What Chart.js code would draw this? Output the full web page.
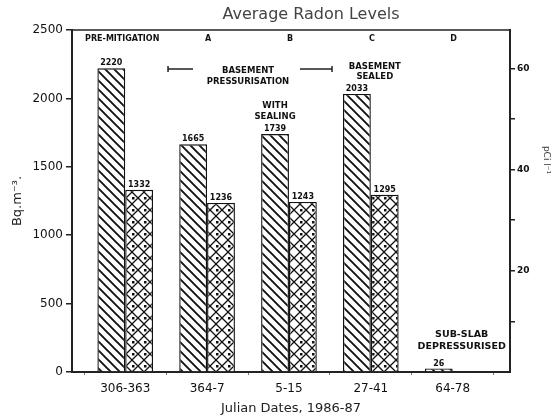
<!DOCTYPE html>
<html>
<head>
<meta charset="utf-8">
<script src="https://cdn.jsdelivr.net/npm/chart.js@4.4.1/dist/chart.umd.min.js"></script>
<style>
  html, body { margin: 0; padding: 0; background: #fff; }
  #wrap { width: 559px; height: 418px; }
</style>
</head>
<body>
<div id="wrap"><canvas id="radonChart" width="559" height="418"></canvas></div>
<script>
// data
const categories = ['306-363', '364-7', '5-15', '27-41', '64-78'];
const phases = ['PRE-MITIGATION', 'A', 'B', 'C', 'D'];
const hatchedValues = [2220, 1665, 1739, 2033, 26];
const crossValues = [1332, 1236, 1243, 1295, null];
const bqTicks = [0, 500, 1000, 1500, 2000, 2500];
const pciTicks = [10, 20, 30, 40, 50, 60];
const BQ_PER_PCI = 37;

const FONT = '"DejaVu Sans", sans-serif';

function hatchPattern() {
    const c = document.createElement('canvas');
    c.width = 9; c.height = 9;
    const g = c.getContext('2d');
    g.fillStyle = '#fff';
    g.fillRect(0, 0, 9, 9);
    g.strokeStyle = '#111';
    g.lineWidth = 1.9;
    g.beginPath();
    g.moveTo(-4.5, 4.5); g.lineTo(4.5, 13.5);
    g.moveTo(0, 0); g.lineTo(9, 9);
    g.moveTo(4.5, -4.5); g.lineTo(13.5, 4.5);
    g.stroke();
    return g.createPattern(c, 'repeat');
}

function crossPattern() {
    const c = document.createElement('canvas');
    c.width = 12; c.height = 12;
    const g = c.getContext('2d');
    g.fillStyle = '#fff';
    g.fillRect(0, 0, 12, 12);
    g.strokeStyle = '#111';
    g.lineWidth = 1.3;
    g.beginPath();
    g.moveTo(0, 0); g.lineTo(12, 12);
    g.moveTo(12, 0); g.lineTo(0, 12);
    g.stroke();
    g.fillStyle = '#111';
    g.fillRect(0, 5, 2.5, 2.5);
    return g.createPattern(c, 'repeat');
}

function toPoints(values) {
    const pts = [];
    values.forEach(function (v, i) {
        if (v !== null) pts.push({ x: i, y: v });
    });
    return pts;
}

// frame, title, value labels and the text notes
const decorPlugin = {
    id: 'decor',
    afterDatasetsDraw(chart) {
        const ctx = chart.ctx;
        const area = chart.chartArea;
        const xs = chart.scales.x;
        const ys = chart.scales.y;
        ctx.save();

        // top frame line
        ctx.strokeStyle = '#222';
        ctx.lineWidth = 1.6;
        ctx.beginPath();
        ctx.moveTo(area.left, area.top);
        ctx.lineTo(area.right, area.top);
        ctx.stroke();

        // title
        ctx.fillStyle = '#444';
        ctx.font = '16px ' + FONT;
        ctx.textAlign = 'center';
        ctx.textBaseline = 'middle';
        ctx.fillText('Average Radon Levels', 311, 15);

        // right axis title
        ctx.save();
        ctx.translate(546, 160);
        ctx.rotate(Math.PI / 2);
        ctx.font = '9px ' + FONT;
        ctx.fillStyle = '#444';
        ctx.fillText('pCi l\u207B\u00B9', 0, 0);
        ctx.restore();

        ctx.fillStyle = '#111';
        // phase letters
        ctx.font = 'bold 8px ' + FONT;
        phases.forEach(function (p, i) {
            ctx.fillText(p, xs.getPixelForValue(i) + (i === 0 ? -3 : 1), area.top + 9);
        });

        // value labels on bars
        ctx.font = 'bold 8px ' + FONT;
        ctx.textBaseline = 'bottom';
        [0, 1].forEach(function (d) {
            const meta = chart.getDatasetMeta(d);
            const vals = d === 0 ? hatchedValues : crossValues;
            const pts = toPoints(vals);
            meta.data.forEach(function (el, k) {
                ctx.fillText(String(pts[k].y), el.x, el.y - 1);
            });
        });

        // notes
        ctx.textBaseline = 'middle';
        ctx.font = 'bold 8.5px ' + FONT;
        const h0 = chart.getDatasetMeta(0).data;
        function note(lines, x, yVals) {
            lines.forEach(function (t, j) {
                ctx.fillText(t, x, ys.getPixelForValue(yVals[j]));
            });
        }
        note(['BASEMENT', 'PRESSURISATION'], xs.getPixelForValue(1.5), [2199, 2119]);
        note(['WITH', 'SEALING'], h0[2].x, [1943, 1869]);
        note(['BASEMENT', 'SEALED'], xs.getPixelForValue(3) + 4, [2229, 2155]);
        ctx.font = 'bold 9.5px ' + FONT;
        note(['SUB-SLAB', 'DEPRESSURISED'], xs.getPixelForValue(4) + 9, [271, 183]);

        // bracket lines for basement pressurisation
        const by = ys.getPixelForValue(2214);
        ctx.lineWidth = 1.5;
        ctx.beginPath();
        ctx.moveTo(xs.getPixelForValue(0.523), by);
        ctx.lineTo(xs.getPixelForValue(0.828), by);
        ctx.moveTo(xs.getPixelForValue(0.523), by - 3);
        ctx.lineTo(xs.getPixelForValue(0.523), by + 3);
        ctx.moveTo(xs.getPixelForValue(2.135), by);
        ctx.lineTo(xs.getPixelForValue(2.526), by);
        ctx.moveTo(xs.getPixelForValue(2.526), by - 3);
        ctx.lineTo(xs.getPixelForValue(2.526), by + 3);
        ctx.stroke();

        ctx.restore();
    }
};

const ctx = document.getElementById('radonChart').getContext('2d');

const radonChart = new Chart(ctx, {
    type: 'bar',
    data: {
        datasets: [{
            label: 'Hatched',
            data: toPoints(hatchedValues),
            backgroundColor: hatchPattern(),
            borderColor: '#111',
            borderWidth: 1.4,
            yAxisID: 'y'
        }, {
            label: 'Cross-hatched',
            data: toPoints(crossValues),
            backgroundColor: crossPattern(),
            borderColor: '#111',
            borderWidth: 1.4,
            yAxisID: 'y'
        }]
    },
    options: {
        responsive: false,
        animation: false,
        layout: { padding: { top: 30, left: 0, right: 0, bottom: 0 } },
        datasets: {
            bar: {
                barPercentage: 1.0,
                categoryPercentage: 0.68
            }
        },
        plugins: {
            legend: { display: false },
            tooltip: { enabled: false }
        },
        scales: {
            x: {
                type: 'linear',
                offset: false,
                min: -0.65,
                max: 4.7,
                afterBuildTicks: function (axis) {
                    axis.ticks = categories.map(function (c, i) { return { value: i }; });
                },
                afterFit: function (axis) { axis.height = 46; },
                ticks: {
                    color: '#111',
                    font: { family: FONT, size: 12 },
                    padding: 7,
                    callback: function (v) { return categories[v]; }
                },
                grid: { drawOnChartArea: false, drawTicks: true, tickLength: 3, color: '#777' },
                border: { display: true, color: '#222', width: 2 },
                title: {
                    display: true,
                    text: 'Julian Dates, 1986-87',
                    color: '#222',
                    font: { family: FONT, size: 13 },
                    padding: { top: 0, bottom: 2 }
                }
            },
            y: {
                position: 'left',
                min: 0,
                max: 2500,
                afterBuildTicks: function (axis) {
                    axis.ticks = bqTicks.map(function (v) { return { value: v }; });
                },
                afterFit: function (axis) { axis.width = 72; },
                ticks: {
                    color: '#111',
                    font: { family: FONT, size: 12 },
                    padding: 3,
                    callback: function (v) { return String(v); }
                },
                grid: { drawOnChartArea: false, drawTicks: true, tickLength: 6, color: '#222', lineWidth: 1.5 },
                border: { display: true, color: '#222', width: 2 },
                title: {
                    display: true,
                    text: 'Bq.m\u207B\u00B3.',
                    color: '#222',
                    font: { family: FONT, size: 13 },
                    padding: { top: 10, bottom: 4 }
                }
            },
            y1: {
                position: 'right',
                min: 0,
                max: 2500 / BQ_PER_PCI,
                afterBuildTicks: function (axis) {
                    axis.ticks = pciTicks.map(function (v) { return { value: v }; });
                },
                afterFit: function (axis) { axis.width = 49; },
                ticks: {
                    color: '#111',
                    font: { family: FONT, size: 9, weight: 'bold' },
                    padding: 2,
                    callback: function (v) { return v % 20 === 0 ? String(v) : ''; }
                },
                grid: { drawOnChartArea: false, drawTicks: true, tickLength: 5, color: '#222', lineWidth: 1.5 },
                border: { display: true, color: '#222', width: 2 }
            }
        }
    },
    plugins: [decorPlugin]
});
</script>
</body>
</html>
